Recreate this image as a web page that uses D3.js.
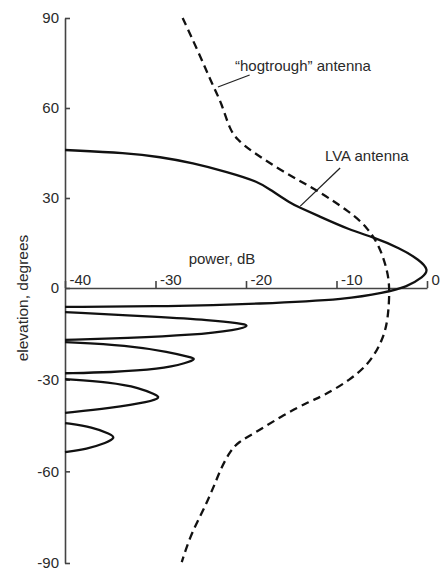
<!DOCTYPE html>
<html>
<head>
<meta charset="utf-8">
<script src="https://cdn.jsdelivr.net/npm/d3@7"></script>
<style>
	body { margin: 0; background: #fff; }
	svg text { font-family: "Liberation Sans", Arial, sans-serif; fill: #2a2a2a; }
</style>
</head>
<body>
<div id="chart"></div>
<script>
// tick values
var powerTicks = [-40, -30, -20, -10, 0];
var elevTicks = [-90, -60, -30, 0, 30, 60, 90];

// LVA antenna, [power dB, elevation deg], main lobe then side lobes
var lvaMain = [[-40, 46], [-33.1, 45], [-29.5, 43.7], [-25.9, 41.7], [-22.1, 38.7], [-18.5, 35.3],
	[-17.3, 32.7], [-15.1, 28.3], [-14.0, 26.7], [-12.2, 24.3], [-8.5, 19.3], [-6.0, 17.0],
	[-3.0, 13.3], [-0.8, 9.3], [0.2, 6.0], [-0.4, 3.7], [-2.2, 0.3], [-4.9, -1.6], [-8.5, -3.6],
	[-18.5, -5.2], [-28.4, -6.0], [-40, -6.2]];
var lvaSide1 = [[-40, -7.9], [-29.5, -9.5], [-24.0, -10.5], [-20.7, -11.5], [-19.5, -12.3],
	[-21.0, -13.7], [-25.9, -15.4], [-33.1, -16.4], [-40, -17.0]];
var lvaSide2 = [[-40, -17.7], [-33.1, -18.7], [-28.4, -21.0], [-26.2, -22.6], [-25.5, -23.2],
	[-26.5, -24.5], [-29.5, -26.6], [-35.0, -27.6], [-40, -27.9]];
var lvaSide3 = [[-40, -29.8], [-35, -30.8], [-31.7, -32.7], [-30.1, -34.8], [-29.4, -35.8],
	[-30.6, -37.3], [-35, -39.3], [-40, -40.9]];
var lvaSide4 = [[-40, -44.2], [-36.9, -45.5], [-35.0, -47.8], [-34.4, -48.9], [-35.4, -50.7],
	[-37.6, -52.7], [-40, -53.7]];

// "hogtrough" antenna
var hogtrough = [[-27.0, 90], [-25.2, 78.3], [-23.6, 67], [-22.7, 61.7], [-21.8, 52.7], [-20.9, 49.3],
	[-19.6, 46], [-15.9, 38.7], [-12.2, 32.7], [-8.5, 25.3], [-6.6, 20.3], [-5.2, 13.7],
	[-4.4, 6], [-4.1, 0.3], [-4.3, -10.5], [-4.9, -17.0], [-6.3, -24.5], [-8.5, -30.1],
	[-11.5, -35.4], [-12.9, -37.0], [-15.9, -41.6], [-18.8, -47.1], [-20.9, -50.4],
	[-21.8, -53.7], [-22.7, -58.6], [-23.4, -63.8], [-24.2, -69.4], [-25.1, -74.9],
	[-26.2, -81.5], [-27.1, -89.7]];

var svg = d3.select("#chart").append("svg")
	.attr("width", 448)
	.attr("height", 571);

// scales
var xScale = d3.scaleLinear().domain([-40, 0]).range([65, 427]);
var yScale = d3.scaleLinear().domain([-90, 0, 90]).range([563, 288, 18]);

var line = d3.line()
	.x(function(d) { return xScale(d[0]); })
	.y(function(d) { return yScale(d[1]); })
	.curve(d3.curveBasis);

// axes
var yAxis = svg.append("g")
	.attr("transform", "translate(" + xScale(-40) + ",0)")
	.call(d3.axisLeft(yScale).tickValues(elevTicks).tickSize(-5).tickSizeOuter(0).tickPadding(6)
		.tickFormat(function(d) { return String(d); }));

var xAxis = svg.append("g")
	.attr("transform", "translate(0," + yScale(0) + ")")
	.call(d3.axisTop(xScale).tickValues(powerTicks).tickSize(7).tickSizeOuter(0)
		.tickFormat(function(d) { return String(d); }));

xAxis.selectAll(".tick text")
	.attr("x", 4)
	.attr("y", -3)
	.attr("dy", 0)
	.attr("text-anchor", "start");

svg.selectAll(".domain, .tick line")
	.attr("stroke", "#444")
	.attr("stroke-width", 1.6);
svg.selectAll(".tick text")
	.attr("font-size", 15)
	.style("font-family", "'Liberation Sans', Arial, sans-serif");

svg.append("text")
	.attr("x", 222)
	.attr("y", 264)
	.attr("text-anchor", "middle")
	.attr("font-size", 15)
	.text("power, dB");

svg.append("text")
	.attr("transform", "translate(28,298) rotate(-90)")
	.attr("text-anchor", "middle")
	.attr("font-size", 15.5)
	.text("elevation, degrees");

// curves
[lvaMain, lvaSide1, lvaSide2, lvaSide3, lvaSide4].forEach(function(lobe) {
	svg.append("path")
		.datum(lobe)
		.attr("d", line)
		.attr("fill", "none")
		.attr("stroke", "#111")
		.attr("stroke-width", 2.3);
});

svg.append("path")
	.datum(hogtrough)
	.attr("d", line)
	.attr("fill", "none")
	.attr("stroke", "#111")
	.attr("stroke-width", 2.3)
	.attr("stroke-dasharray", "8,5");

// labels and leaders
svg.append("line")
	.attr("x1", xScale(-23.1)).attr("y1", yScale(67))
	.attr("x2", xScale(-19.6)).attr("y2", yScale(71))
	.attr("stroke", "#222").attr("stroke-width", 1.3);
svg.append("text")
	.attr("x", 235)
	.attr("y", 71)
	.attr("font-size", 15)
	.text("\u201chogtrough\u201d antenna");

svg.append("line")
	.attr("x1", xScale(-14.0)).attr("y1", yScale(27.3))
	.attr("x2", xScale(-9.6)).attr("y2", yScale(40))
	.attr("stroke", "#222").attr("stroke-width", 1.3);
svg.append("text")
	.attr("x", 325)
	.attr("y", 161)
	.attr("font-size", 15)
	.text("LVA antenna");
</script>
</body>
</html>
